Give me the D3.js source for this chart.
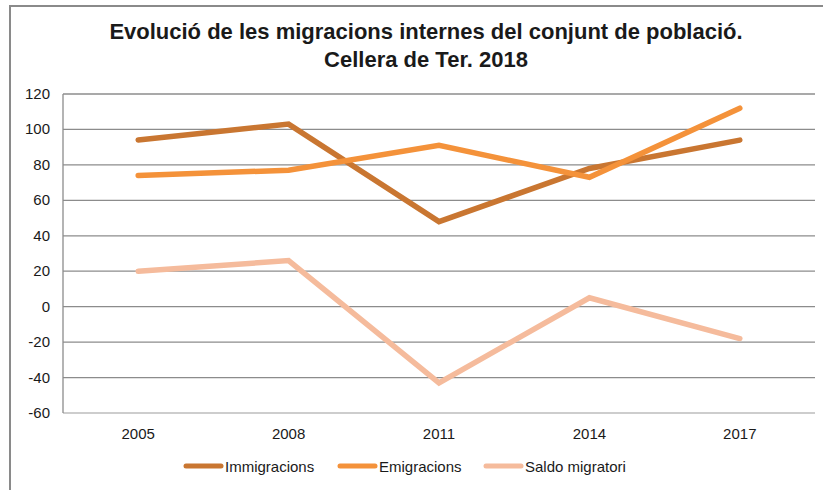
<!DOCTYPE html>
<html>
<head>
<meta charset="utf-8">
<script src="https://cdn.jsdelivr.net/npm/d3@7"></script>
<style>
  body { margin: 0; background: #fff; }
  text { font-family: "Liberation Sans", Arial, sans-serif; fill: #1a1a1a; }
</style>
</head>
<body>
<div id="vis"></div>
<script>
var years = ["2005", "2008", "2011", "2014", "2017"],
    immigracions = [94, 103, 48, 78, 94],
    emigracions = [74, 77, 91, 73, 112],
    saldo = [20, 26, -43, 5, -18],
    yTicks = [-60, -40, -20, 0, 20, 40, 60, 80, 100, 120],
    seriesNames = ["Immigracions", "Emigracions", "Saldo migratori"],
    seriesColors = ["#c97631", "#f4923a", "#f5bb9c"];

var W = 823, H = 490,
    pLeft = 63, pRight = 815, pTop = 94, pBottom = 413;

var svg = d3.select("#vis").append("svg")
    .attr("width", W)
    .attr("height", H);

// outer frame (cropped at right and bottom)
svg.append("path")
    .attr("d", "M10," + H + "V6H" + W)
    .attr("fill", "none")
    .attr("stroke", "#8a8a8a")
    .attr("stroke-width", 2);

svg.append("text")
    .attr("x", 426).attr("y", 39)
    .attr("text-anchor", "middle")
    .style("font-size", "22px").style("font-weight", "bold")
    .text("Evolució de les migracions internes del conjunt de població.");
svg.append("text")
    .attr("x", 426).attr("y", 67)
    .attr("text-anchor", "middle")
    .style("font-size", "22px").style("font-weight", "bold")
    .text("Cellera de Ter. 2018");

var x = d3.scaleBand().domain(years).range([pLeft, pRight]);
var y = d3.scaleLinear().domain([-60, 120]).range([pBottom, pTop]);

// gridlines
svg.append("g").selectAll("line")
    .data(yTicks.filter(function(d) { return d > -60; }))
  .enter().append("line")
    .attr("x1", pLeft).attr("x2", pRight)
    .attr("y1", function(d) { return y(d); })
    .attr("y2", function(d) { return y(d); })
    .attr("stroke", "#8c8c8c")
    .attr("stroke-width", 1.3);

// bottom axis line
svg.append("line")
    .attr("x1", pLeft).attr("x2", pRight)
    .attr("y1", y(-60)).attr("y2", y(-60))
    .attr("stroke", "#bdbdbd").attr("stroke-width", 1.3);

// left axis line
svg.append("line")
    .attr("x1", pLeft).attr("x2", pLeft)
    .attr("y1", pTop).attr("y2", pBottom)
    .attr("stroke", "#8c8c8c").attr("stroke-width", 1.3);

// y labels
svg.append("g").selectAll("text")
    .data(yTicks)
  .enter().append("text")
    .attr("x", 50)
    .attr("y", function(d) { return y(d) + 5; })
    .attr("text-anchor", "end")
    .style("font-size", "15px")
    .text(function(d) { return d; });

// x labels
svg.append("g").selectAll("text")
    .data(years)
  .enter().append("text")
    .attr("x", function(d) { return x(d) + x.bandwidth() / 2; })
    .attr("y", 439)
    .attr("text-anchor", "middle")
    .style("font-size", "15px")
    .text(function(d) { return d; });

var line = d3.line()
    .x(function(d, i) { return x(years[i]) + x.bandwidth() / 2; })
    .y(function(d) { return y(d); });

var series = [immigracions, emigracions, saldo];
[2, 0, 1].forEach(function(k) {
  svg.append("path")
      .datum(series[k])
      .attr("d", line)
      .attr("fill", "none")
      .attr("stroke", seriesColors[k])
      .attr("stroke-width", 5.5)
      .attr("stroke-linecap", "round")
      .attr("stroke-linejoin", "miter");
});

// legend
var legX = [186, 340, 486];
var leg = svg.append("g").selectAll("g")
    .data(seriesNames)
  .enter().append("g")
    .attr("transform", function(d, i) { return "translate(" + legX[i] + ",466)"; });
leg.append("line")
    .attr("x1", 0).attr("x2", 35)
    .attr("stroke", function(d, i) { return seriesColors[i]; })
    .attr("stroke-width", 5)
    .attr("stroke-linecap", "round");
leg.append("text")
    .attr("x", 39).attr("y", 5.5)
    .style("font-size", "15px")
    .text(function(d) { return d; });
</script>
</body>
</html>
